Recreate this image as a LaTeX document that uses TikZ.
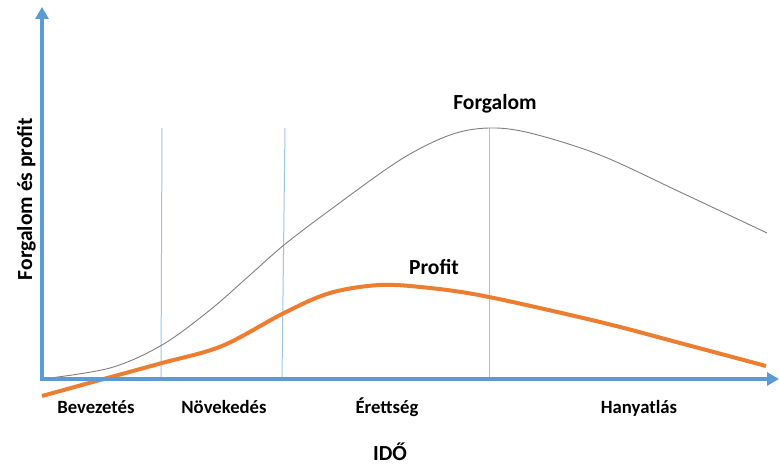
\documentclass[tikz,border=0pt]{standalone}
\usepackage{fontspec}
\setmainfont{Carlito}
\usetikzlibrary{arrows.meta}

\definecolor{axisblue}{HTML}{5B9BD5}
\definecolor{lineblue}{HTML}{9DC3E6}
\definecolor{profitorange}{HTML}{ED7D31}
\definecolor{salesgray}{HTML}{7F7F7F}

\begin{document}
\begin{tikzpicture}[x=1pt,y=-1pt,
    axis/.style={line width=4pt,color=axisblue,-{Triangle[length=12pt,width=13pt]}},
    phase/.style={line width=1pt,color=lineblue},
    biglabel/.style={font=\bfseries\fontsize{21.5}{24}\selectfont,anchor=base},
    smalllabel/.style={font=\bfseries\fontsize{18.7}{22}\selectfont,anchor=base}]
    \useasboundingbox (0,0) rectangle (779,468);

    % phase borders
    \draw [phase] (162,128) -- (161,379);
    \draw [phase] (285,128) -- (282,379);
    \draw [phase] (489,128) -- (489,379);

    % sales curve
    \draw [line width=0.9pt,color=salesgray] plot[smooth,tension=0.55] coordinates
      {(42,379) (110,368) (162,345) (210,310) (250,275) (284,245) (330,210) (400,160) (450,135) (489,128) (530,133) (600,155) (680,192) (767,233)};

    % profit curve
    \draw [line width=4pt,color=profitorange] plot[smooth,tension=0.55] coordinates
      {(42,396) (100,380) (162,363) (222,346) (284,313) (330,293) (380,285) (430,288) (489,297) (600,322) (680,343) (766,366)};

    \draw [axis] (42,381) -- (42,7);
    \draw [axis] (40,379) -- (779,379);

    \node [biglabel] (sales) at (495,110) {Forgalom};
    \node [biglabel] (profit) at (434,274) {Profit};
    \node [smalllabel] (intro) at (96,413) {Bevezetés};
    \node [smalllabel] (growth) at (224,413) {Növekedés};
    \node [smalllabel] (mature) at (387,413) {Érettség};
    \node [smalllabel] (decline) at (639,413) {Hanyatlás};
    \node [biglabel] (time) at (390,460) {IDŐ};
    \node [biglabel,rotate=90] (yaxis) at (32,199) {Forgalom és profit};
\end{tikzpicture}
\end{document}
